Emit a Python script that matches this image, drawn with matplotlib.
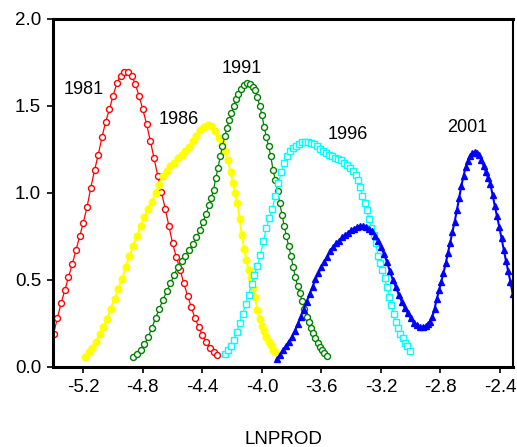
import matplotlib
matplotlib.use("Agg")
import matplotlib.pyplot as plt

plt.rcParams['font.family'] = ['Liberation Sans', 'DejaVu Sans']

# kernel density estimates of LNPROD
x1981 = [-5.425, -5.400, -5.375, -5.350, -5.325, -5.300, -5.275, -5.250, -5.225, -5.200,
         -5.175, -5.150, -5.125, -5.100, -5.075, -5.050, -5.025, -5.000, -4.975, -4.950,
         -4.925, -4.900, -4.875, -4.850, -4.825, -4.800, -4.775, -4.750, -4.725, -4.700,
         -4.675, -4.650, -4.625, -4.600, -4.575, -4.550, -4.525, -4.500, -4.475, -4.450,
         -4.425, -4.400, -4.375, -4.350, -4.325, -4.300]
y1981 = [0.140, 0.190, 0.280, 0.365, 0.440, 0.515, 0.590, 0.670, 0.750, 0.830,
         0.920, 1.030, 1.130, 1.220, 1.320, 1.410, 1.480, 1.560, 1.630, 1.675,
         1.695, 1.695, 1.675, 1.625, 1.555, 1.480, 1.395, 1.300, 1.200, 1.100,
         1.005, 0.910, 0.810, 0.710, 0.630, 0.560, 0.480, 0.410, 0.345, 0.280,
         0.230, 0.185, 0.145, 0.110, 0.085, 0.068]

x1986 = [-5.190, -5.165, -5.140, -5.115, -5.090, -5.065, -5.040, -5.015, -4.990, -4.965,
         -4.940, -4.915, -4.890, -4.865, -4.840, -4.815, -4.790, -4.765, -4.740, -4.715,
         -4.690, -4.665, -4.640, -4.615, -4.590, -4.565, -4.540, -4.515, -4.490, -4.465,
         -4.440, -4.415, -4.390, -4.365, -4.340, -4.315, -4.290, -4.270, -4.250, -4.230,
         -4.210, -4.195, -4.180, -4.165, -4.150, -4.135, -4.120, -4.105, -4.090, -4.075,
         -4.060, -4.045, -4.030, -4.015, -4.000, -3.985, -3.970, -3.955, -3.940, -3.925,
         -3.910]
y1986 = [0.060, 0.085, 0.110, 0.145, 0.190, 0.230, 0.275, 0.335, 0.390, 0.450,
         0.505, 0.575, 0.640, 0.695, 0.755, 0.810, 0.860, 0.910, 0.950, 1.000,
         1.045, 1.095, 1.125, 1.155, 1.175, 1.200, 1.220, 1.240, 1.265, 1.300,
         1.330, 1.360, 1.380, 1.390, 1.385, 1.355, 1.315, 1.280, 1.240, 1.190,
         1.120, 1.060, 1.000, 0.940, 0.850, 0.760, 0.680, 0.615, 0.555, 0.510,
         0.455, 0.400, 0.330, 0.275, 0.235, 0.205, 0.175, 0.145, 0.125, 0.100,
         0.085]

x1991 = [-4.865, -4.840, -4.815, -4.790, -4.765, -4.740, -4.715, -4.690, -4.665, -4.640,
         -4.615, -4.590, -4.565, -4.540, -4.515, -4.490, -4.465, -4.440, -4.415, -4.395,
         -4.375, -4.355, -4.340, -4.325, -4.310, -4.295, -4.280, -4.265, -4.250, -4.235,
         -4.220, -4.205, -4.190, -4.175, -4.160, -4.140, -4.120, -4.100, -4.080, -4.060,
         -4.045, -4.030, -4.015, -4.000, -3.985, -3.970, -3.955, -3.940, -3.925, -3.910,
         -3.895, -3.880, -3.865, -3.850, -3.835, -3.820, -3.805, -3.790, -3.775, -3.760,
         -3.745, -3.730, -3.715, -3.700, -3.685, -3.670, -3.655, -3.640, -3.625, -3.610,
         -3.595, -3.580, -3.565]
y1991 = [0.060, 0.075, 0.100, 0.130, 0.170, 0.225, 0.280, 0.335, 0.385, 0.435,
         0.480, 0.530, 0.575, 0.610, 0.640, 0.670, 0.705, 0.745, 0.790, 0.835,
         0.880, 0.930, 0.970, 1.020, 1.085, 1.145, 1.210, 1.270, 1.325, 1.375,
         1.420, 1.460, 1.500, 1.540, 1.570, 1.600, 1.620, 1.630, 1.625, 1.610,
         1.590, 1.550, 1.500, 1.450, 1.380, 1.320, 1.270, 1.210, 1.130, 1.075,
         1.010, 0.940, 0.875, 0.810, 0.750, 0.695, 0.640, 0.575, 0.515, 0.465,
         0.425, 0.380, 0.335, 0.290, 0.260, 0.225, 0.195, 0.165, 0.140, 0.115,
         0.095, 0.078, 0.063]

x1996 = [-4.250, -4.230, -4.210, -4.190, -4.170, -4.150, -4.130, -4.110, -4.090, -4.070,
         -4.050, -4.030, -4.010, -3.990, -3.970, -3.950, -3.930, -3.910, -3.890, -3.870,
         -3.850, -3.830, -3.810, -3.790, -3.770, -3.750, -3.730, -3.710, -3.690, -3.670,
         -3.650, -3.630, -3.610, -3.590, -3.570, -3.550, -3.530, -3.510, -3.490, -3.470,
         -3.450, -3.430, -3.410, -3.390, -3.370, -3.355, -3.340, -3.325, -3.310, -3.295,
         -3.280, -3.265, -3.250, -3.235, -3.220, -3.205, -3.190, -3.175, -3.160, -3.145,
         -3.130, -3.115, -3.100, -3.085, -3.070, -3.055, -3.040, -3.025, -3.005]
y1996 = [0.075, 0.095, 0.120, 0.155, 0.200, 0.255, 0.305, 0.360, 0.415, 0.475,
         0.530, 0.580, 0.645, 0.725, 0.800, 0.855, 0.910, 0.985, 1.055, 1.120,
         1.175, 1.215, 1.240, 1.257, 1.272, 1.284, 1.292, 1.295, 1.295, 1.290,
         1.280, 1.268, 1.253, 1.240, 1.228, 1.218, 1.210, 1.203, 1.196, 1.187,
         1.175, 1.160, 1.145, 1.128, 1.105, 1.075, 1.035, 0.985, 0.945, 0.900,
         0.850, 0.800, 0.760, 0.710, 0.640, 0.600, 0.555, 0.510, 0.460, 0.405,
         0.355, 0.305, 0.260, 0.225, 0.190, 0.165, 0.140, 0.120, 0.094]

x2001 = [-3.900, -3.880, -3.860, -3.840, -3.820, -3.800, -3.780, -3.760, -3.740, -3.720,
         -3.700, -3.680, -3.660, -3.640, -3.620, -3.600, -3.580, -3.560, -3.540, -3.520,
         -3.500, -3.480, -3.460, -3.440, -3.420, -3.400, -3.380, -3.360, -3.340, -3.320,
         -3.300, -3.280, -3.260, -3.240, -3.220, -3.200, -3.180, -3.160, -3.140, -3.120,
         -3.100, -3.080, -3.060, -3.040, -3.020, -3.000, -2.980, -2.960, -2.940, -2.920,
         -2.900, -2.885, -2.870, -2.855, -2.840, -2.825, -2.810, -2.795, -2.780, -2.765,
         -2.750, -2.735, -2.720, -2.705, -2.690, -2.675, -2.660, -2.645, -2.630, -2.615,
         -2.600, -2.585, -2.570, -2.555, -2.540, -2.525, -2.510, -2.495, -2.480, -2.465,
         -2.450, -2.435, -2.420, -2.405, -2.390, -2.375, -2.360, -2.345, -2.330, -2.315,
         -2.300, -2.285, -2.270]
y2001 = [0.045, 0.070, 0.095, 0.120, 0.145, 0.170, 0.205, 0.245, 0.290, 0.330,
         0.375, 0.420, 0.460, 0.505, 0.540, 0.575, 0.605, 0.635, 0.665, 0.690,
         0.710, 0.725, 0.745, 0.760, 0.772, 0.785, 0.795, 0.805, 0.810, 0.810,
         0.805, 0.795, 0.780, 0.755, 0.725, 0.690, 0.650, 0.605, 0.550, 0.500,
         0.460, 0.415, 0.375, 0.340, 0.310, 0.280, 0.255, 0.240, 0.230, 0.228,
         0.235, 0.245, 0.260, 0.290, 0.335, 0.390, 0.440, 0.490, 0.540, 0.595,
         0.655, 0.715, 0.775, 0.835, 0.900, 0.970, 1.040, 1.100, 1.150, 1.185,
         1.210, 1.228, 1.237, 1.232, 1.218, 1.190, 1.155, 1.120, 1.085, 1.050,
         0.990, 0.925, 0.865, 0.805, 0.740, 0.675, 0.610, 0.550, 0.490, 0.420,
         0.350, 0.290, 0.230]

years = ['1981', '1986', '1991', '1996', '2001']
label_x = [-5.200, -4.556, -4.134, -3.421, -2.622]
label_y = [1.592, 1.420, 1.718, 1.339, 1.374]
xticks = [-5.2, -4.8, -4.4, -4.0, -3.6, -3.2, -2.8, -2.4]
yticks = [0.0, 0.5, 1.0, 1.5, 2.0]

fig = plt.figure(figsize=(5.17, 4.47), dpi=100)
ax = fig.add_axes([0.1025, 0.179, 0.8897, 0.7785])

ax.plot(x1981, y1981, color='red', lw=0.9, marker='o', ms=4.3, mfc='white', mec='red', mew=1.0)
ax.plot(x1986, y1986, color='yellow', lw=1.5, marker='o', ms=4.8, mfc='yellow', mec='yellow')
ax.plot(x1991, y1991, color='green', lw=0.9, marker='o', ms=4.3, mfc='white', mec='green', mew=1.0)
ax.plot(x1996, y1996, color='cyan', lw=0.9, marker='s', ms=4.1, mfc='white', mec='cyan', mew=1.0)
ax.plot(x2001, y2001, color='blue', lw=1.5, marker='^', ms=5.0, mfc='blue', mec='blue')

for t, tx, ty in zip(years, label_x, label_y):
    ax.text(tx, ty, t, fontsize=13, ha='center', va='center')

ax.set_xlim(-5.404, -2.313)
ax.set_ylim(0, 2.0)
ax.set_xticks(xticks)
ax.set_yticks(yticks)
ax.set_xticklabels([f'{v:.1f}' for v in xticks])
ax.set_yticklabels([f'{v:.1f}' for v in yticks])
ax.tick_params(direction='out', length=4.5, width=1.2, labelsize=13.5, pad=4)
ax.set_xlabel('LNPROD', fontsize=13.5, labelpad=25)

for s in ['left', 'bottom', 'top']:
    ax.spines[s].set_linewidth(2.2)
ax.spines['right'].set_linewidth(1.5)

fig.savefig('out.png', dpi=100)
